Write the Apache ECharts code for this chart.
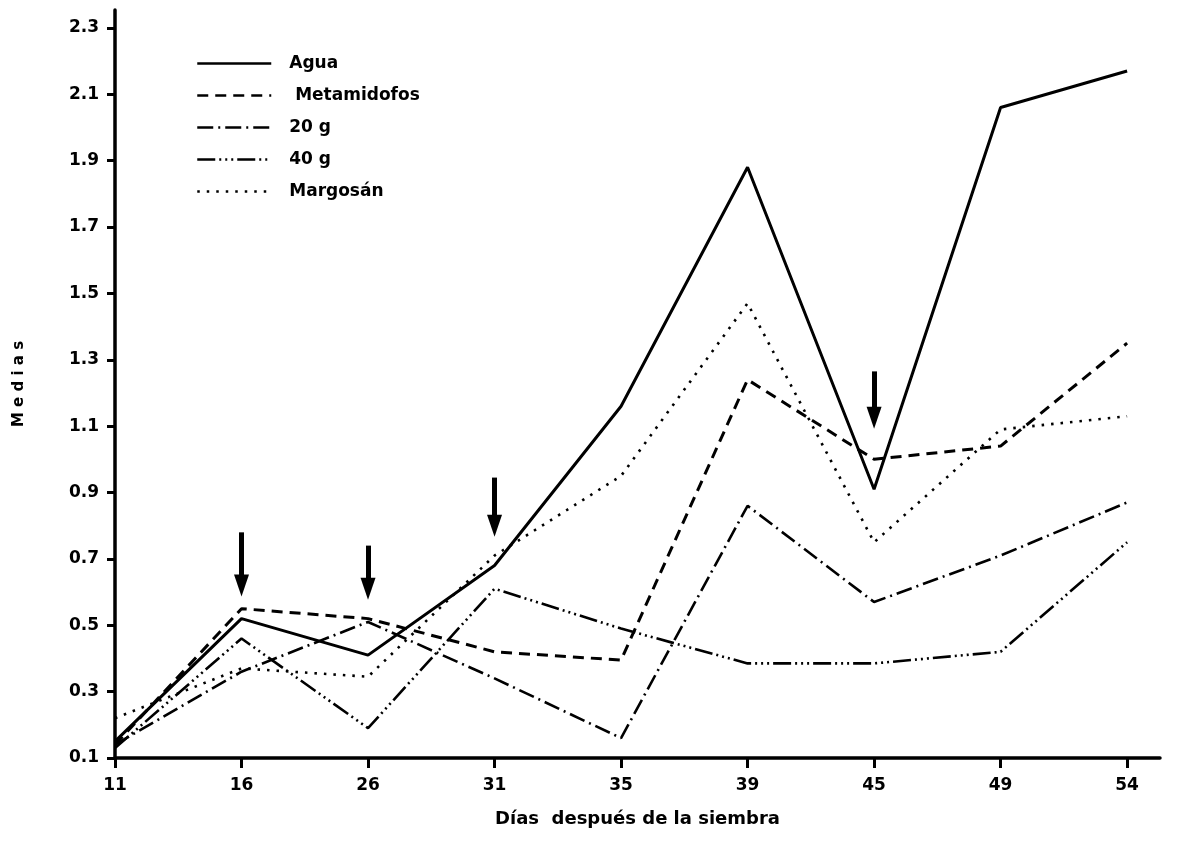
<!DOCTYPE html>
<html>
<head>
<meta charset="utf-8">
<title>Medias</title>
<script src="https://cdn.jsdelivr.net/npm/echarts@6/dist/echarts.min.js"></script>
<style>
  html, body { margin: 0; padding: 0; background: #fff; }
  #chart { width: 1177px; height: 842px; }
</style>
</head>
<body>
<div id="chart"></div>
<script>
// Días después de la siembra
const days = ['11', '16', '26', '31', '35', '39', '45', '49', '54'];

// Medias por tratamiento
const agua        = [0.15, 0.52, 0.41, 0.68, 1.16, 1.88, 0.91, 2.06, 2.17];
const metamidofos = [0.14, 0.55, 0.52, 0.42, 0.395, 1.24, 1.00, 1.04, 1.35];
const g20         = [0.14, 0.36, 0.51, 0.34, 0.16, 0.86, 0.57, 0.71, 0.87];
const g40         = [0.13, 0.46, 0.19, 0.61, 0.49, 0.385, 0.385, 0.42, 0.75];
const margosan    = [0.22, 0.37, 0.345, 0.71, 0.95, 1.47, 0.75, 1.09, 1.13];

// Marcas del eje Y
const yTicks = [0.1, 0.3, 0.5, 0.7, 0.9, 1.1, 1.3, 1.5, 1.7, 1.9, 2.1, 2.3];

// Flechas de aplicación: día, extremo superior y centro de la punta (en medias)
const arrows = [
  { day: '16', top: 0.78, tip: 0.62 },
  { day: '26', top: 0.74, tip: 0.61 },
  { day: '31', top: 0.945, tip: 0.80 },
  { day: '45', top: 1.265, tip: 1.125 }
];

const FONT = '"DejaVu Sans", sans-serif';
const INK = '#000';

const chart = echarts.init(document.getElementById('chart'), null, { renderer: 'canvas' });

const pairs = arr => arr.map((v, i) => [i, v]);

function lineSeries(name, values, dash, width) {
  return {
    name: name,
    type: 'line',
    data: pairs(values),
    symbol: 'none',
    showSymbol: false,
    silent: true,
    animation: false,
    lineStyle: { color: INK, width: width, type: dash, cap: 'butt' },
    itemStyle: { color: INK }
  };
}

const series = [
  lineSeries('Agua', agua, 'solid', 3),
  lineSeries('Metamidofos', metamidofos, [11, 7], 3),
  lineSeries('20g', g20, [16, 5, 2, 5], 2.6),
  lineSeries('40g', g40, [18, 4, 2, 4, 2, 4, 2, 4], 2.6),
  lineSeries('Margosán', margosan, [2.5, 7], 2.6)
];

// Flechas dibujadas como marcas de línea en coordenadas de datos
series[0].markLine = {
  silent: true,
  animation: false,
  symbol: ['none', 'triangle'],
  symbolSize: [15, 22],
  label: { show: false },
  lineStyle: { color: INK, width: 5, type: 'solid' },
  emphasis: { disabled: true },
  data: arrows.map(a => [
    { coord: [days.indexOf(a.day), a.top] },
    { coord: [days.indexOf(a.day), a.tip] }
  ])
};

const option = {
  backgroundColor: '#fff',
  animation: false,
  grid: { left: 115, right: 17, top: 10, bottom: 84, containLabel: false },
  legend: {
    orient: 'vertical',
    left: 191,
    top: 50,
    itemWidth: 74,
    itemHeight: 14,
    itemGap: 15,
    selectedMode: false,
    data: ['Agua', 'Metamidofos', '20g', '40g', 'Margosán'],
    itemStyle: { color: 'transparent', borderWidth: 0, opacity: 0 },
    lineStyle: { width: 2.5 },
    formatter: function (name) {
      const shown = { 'Agua': 'Agua', 'Metamidofos': ' Metamidofos', '20g': '20 g', '40g': '40 g', 'Margosán': 'Margosán' };
      return shown[name];
    },
    textStyle: {
      fontFamily: FONT, fontWeight: 'bold', fontSize: 17, color: INK,
      padding: [0, 0, 0, 13]
    }
  },
  xAxis: {
    type: 'value',
    min: 0,
    max: 8.26,
    name: 'Días  después de la siembra',
    nameLocation: 'middle',
    nameGap: 52,
    nameTextStyle: { fontFamily: FONT, fontWeight: 'bold', fontSize: 18, color: INK },
    axisLine: { show: true, onZero: false, lineStyle: { color: INK, width: 3.5 } },
    axisTick: {
      show: true, inside: false, length: 10,
      customValues: days.map((d, i) => i),
      lineStyle: { color: INK, width: 3 }
    },
    axisLabel: {
      customValues: days.map((d, i) => i),
      formatter: v => days[Math.round(v)],
      margin: 19,
      fontFamily: FONT, fontWeight: 'bold', fontSize: 17, color: INK
    },
    splitLine: { show: false }
  },
  yAxis: {
    type: 'value',
    min: 0.1,
    max: 2.354,
    name: 'M e d i a s',
    nameLocation: 'middle',
    nameRotate: 90,
    nameGap: 88,
    nameTextStyle: { fontFamily: FONT, fontWeight: 'bold', fontSize: 15, color: INK },
    axisLine: { show: true, onZero: false, lineStyle: { color: INK, width: 3.5 } },
    axisTick: {
      show: true, length: 8,
      customValues: yTicks,
      lineStyle: { color: INK, width: 3 }
    },
    axisLabel: {
      customValues: yTicks,
      formatter: v => v.toFixed(1),
      margin: 16,
      fontFamily: FONT, fontWeight: 'bold', fontSize: 17, color: INK
    },
    splitLine: { show: false }
  },
  series: series
};

chart.setOption(option);
</script>
</body>
</html>
